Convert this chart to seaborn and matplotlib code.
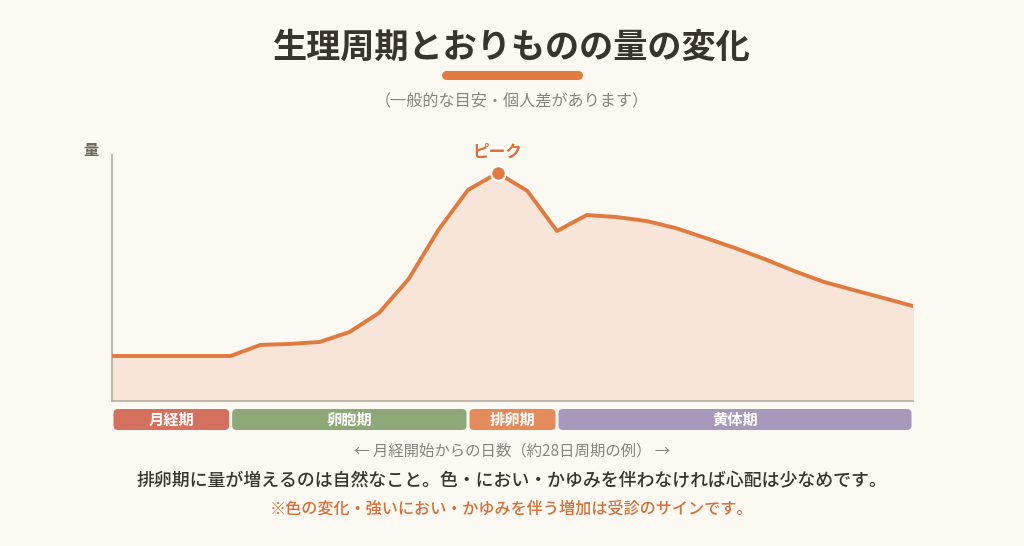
import numpy as np
import pandas as pd
import matplotlib
matplotlib.use("Agg")
import matplotlib.pyplot as plt
from matplotlib.patches import FancyBboxPatch
import seaborn as sns

# データ（約28日周期、相対的な量）
days = list(range(28))
amount = [18.3, 18.3, 18.3, 18.3, 18.3, 22.8, 23.2, 24.0, 28.0, 35.8,
          49.6, 69.5, 85.8, 92.7, 85.4, 69.1, 75.6, 74.8, 73.2, 70.3,
          66.3, 62.2, 57.7, 52.8, 48.4, 45.1, 41.9, 38.6]
peak_day = 13

phase_names = ["月経期", "卵胞期", "排卵期", "黄体期"]
phase_start = [0, 4, 12, 15]
phase_end = [4, 12, 15, 27]
phase_colors = ["#D6705E", "#8FA877", "#E48B5C", "#A898BA"]

title = "生理周期とおりものの量の変化"
subtitle = "（一般的な目安・個人差があります）"
xcaption = "← 月経開始からの日数（約28日周期の例） →"
note_main = "排卵期に量が増えるのは自然なこと。色・におい・かゆみを伴わなければ心配は少なめです。"
note_warn = "※色の変化・強いにおい・かゆみを伴う増加は受診のサインです。"

BG = "#FCF9F3"
ORANGE = "#E07A3E"
DARK = "#3A342F"
GRAY = "#8A837C"

sns.set_theme(style="white", rc={"figure.facecolor": BG, "axes.facecolor": BG})
plt.rcParams["font.family"] = ["Noto Sans CJK JP", "DejaVu Sans"]

df = pd.DataFrame({"day": days, "amount": amount})

W, H = 1024, 546
fig = plt.figure(figsize=(W / 100, H / 100), dpi=100)

# メインの軸
x0, x1 = 112, 913
ax = fig.add_axes([x0 / W, 1 - 401 / H, (x1 - x0) / W, (401 - 155) / H])
ax.fill_between(df["day"], df["amount"], 0, color="#F8E5D9", zorder=1)
sns.lineplot(data=df, x="day", y="amount", ax=ax, color=ORANGE, linewidth=2.8,
             zorder=3)
ax.scatter([peak_day], [amount[peak_day]], s=110, color=ORANGE,
           edgecolor="white", linewidth=1.5, zorder=4, clip_on=False)
ax.annotate("ピーク", (peak_day, amount[peak_day]), xytext=(0, 9),
            textcoords="offset points", ha="center", va="bottom",
            color="#D8703A", fontsize=12, fontweight="bold")
ax.set_xlim(0, 27)
ax.set_ylim(0, 100)
ax.set_xticks([])
ax.set_yticks([])
ax.set_xlabel("")
ax.set_ylabel("")
for side in ["top", "right"]:
    ax.spines[side].set_visible(False)
for side in ["left", "bottom"]:
    ax.spines[side].set_color("#B5ADA3")
    ax.spines[side].set_linewidth(1.2)
ax.text(-0.45, 102, "量", ha="right", va="center", color="#6B625A",
        fontsize=11, fontweight="bold")

# 周期のバー
bar_ax = fig.add_axes([x0 / W, 1 - 430 / H, (x1 - x0) / W, 21 / H])
bar_ax.set_xlim(0, 27)
bar_ax.set_ylim(0, 1)
bar_ax.axis("off")
aspect = (1 / 21) / (27 / (x1 - x0))
for name, s, e, c in zip(phase_names, phase_start, phase_end, phase_colors):
    s2 = s + 0.05
    e2 = e - 0.05
    box = FancyBboxPatch((s2, 0), e2 - s2, 1,
                         boxstyle="round,pad=0,rounding_size=0.15",
                         mutation_aspect=aspect, facecolor=c,
                         edgecolor="none", clip_on=False)
    bar_ax.add_patch(box)
    bar_ax.text((s2 + e2) / 2, 0.48, name, ha="center", va="center",
                color="white", fontsize=11, fontweight="bold")

# タイトルなど
fig.text(0.5, 1 - 47 / H, title, ha="center", va="center", color=DARK,
         fontsize=24.6, fontweight="bold")
fig.add_artist(plt.Line2D([446 / W, 578 / W], [1 - 75 / H, 1 - 75 / H],
                          color=ORANGE, linewidth=6.5, solid_capstyle="round"))
fig.text(0.5, 1 - 101 / H, subtitle, ha="center", va="center", color=GRAY,
         fontsize=11.6)
fig.text(0.5, 1 - 451 / H, xcaption, ha="center", va="center", color=GRAY,
         fontsize=11.1)
fig.text(0.5, 1 - 481 / H, note_main, ha="center", va="center", color=DARK,
         fontsize=12.9, fontweight="medium")
fig.text(0.5, 1 - 509 / H, note_warn, ha="center", va="center",
         color="#D4703A", fontsize=11.6, fontweight="medium")

fig.savefig("out.png", dpi=100, facecolor=BG)
